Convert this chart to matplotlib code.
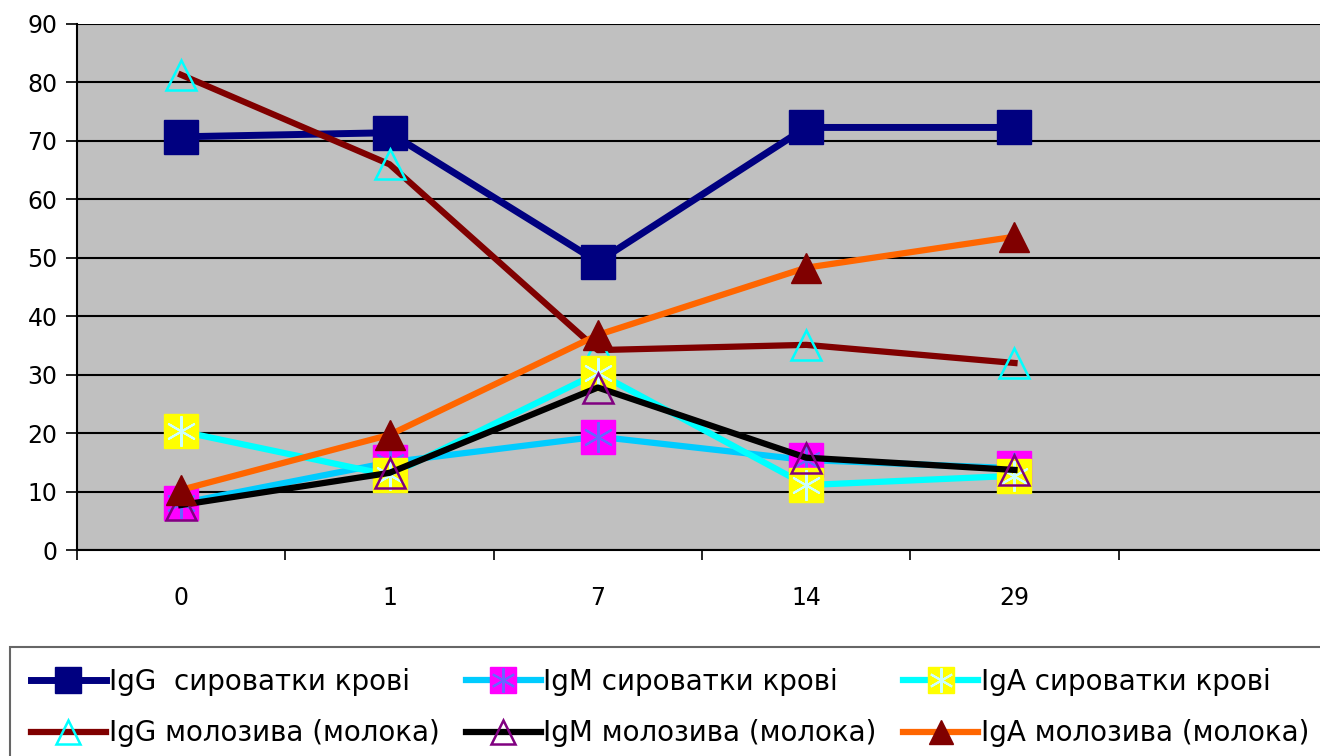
import matplotlib
matplotlib.use("Agg")
import matplotlib.pyplot as plt
from matplotlib.legend_handler import HandlerTuple

plt.rcParams['font.family'] = ['DejaVu Sans']

days = ['0', '1', '7', '14', '29']
igg_serum = [70.7, 71.4, 49.3, 72.3, 72.3]
igm_serum = [8.0, 15.0, 19.4, 15.4, 14.0]
iga_serum = [20.3, 12.8, 30.3, 11.1, 12.7]
igg_milk = [81.3, 66.0, 34.2, 35.1, 32.0]
igm_milk = [7.7, 13.2, 27.8, 15.8, 13.7]
iga_milk = [10.3, 19.7, 36.8, 48.3, 53.6]

labels = ['IgG  сироватки крові', 'IgM сироватки крові', 'IgA сироватки крові',
          'IgG молозива (молока)', 'IgM молозива (молока)', 'IgA молозива (молока)']

x = list(range(len(days)))

fig = plt.figure(figsize=(13.2, 7.56), dpi=100)
ax = fig.add_axes([77 / 1320, 206 / 756, 1250 / 1320, 526 / 756])
ax.set_facecolor('#C0C0C0')

l1, = ax.plot(x, igg_serum, color='#000080', lw=5, marker='s', ms=24,
              mfc='#000080', mec='#000080', zorder=3)
l2, = ax.plot(x, igm_serum, color='#00CCFF', lw=4.5, marker='s', ms=24,
              mfc='#FF00FF', mec='#FF00FF', zorder=3.1)
l2b, = ax.plot(x, igm_serum, ls='none', marker=(6, 2, 0), ms=22,
               mec='#6666FF', mew=1.5, zorder=3.15)
l4, = ax.plot(x, igg_milk, color='#800000', lw=4.5, marker='^', ms=22,
              mfc='none', mec='#00FFFF', mew=1.8, zorder=3.2)
l3, = ax.plot(x, iga_serum, color='#00FFFF', lw=4.5, marker='s', ms=24,
              mfc='#FFFF00', mec='#FFFF00', zorder=3.3)
l3b, = ax.plot(x, iga_serum, ls='none', marker=(6, 2, 0), ms=22,
               mec='#CCFFFF', mew=1.5, zorder=3.35)
l5, = ax.plot(x, igm_milk, color='black', lw=4.5, marker='^', ms=22,
              mfc='none', mec='#800080', mew=1.8, zorder=3.4)
l6, = ax.plot(x, iga_milk, color='#FF6600', lw=4.5, marker='^', ms=22,
              mfc='#800000', mec='#800000', zorder=3.5)

ax.set_xlim(-0.5, 5.5)
ax.set_ylim(0, 90)
ax.set_yticks(range(0, 91, 10))
ax.yaxis.grid(True, color='black', lw=1.5)
ax.set_axisbelow(True)
ax.set_xticks(x)
ax.set_xticklabels(days)
ax.set_xticks([i - 0.5 for i in range(7)], minor=True)
ax.tick_params(axis='x', which='major', length=0, pad=26, labelsize=17)
ax.tick_params(axis='x', which='minor', length=7, width=1.2)
ax.tick_params(axis='y', length=8, width=1.2, labelsize=17, pad=6)
for s in ['top', 'right']:
    ax.spines[s].set_visible(False)
ax.spines['left'].set_linewidth(1.5)
ax.spines['bottom'].set_linewidth(1.5)

# legend filled column by column, so reorder to get rows like the original
handles = [l1, (l2, l2b), (l3, l3b), l4, l5, l6]
order = [0, 3, 1, 4, 2, 5]
leg_top = 1 - 647 / 756
leg = fig.legend([handles[i] for i in order], [labels[i] for i in order],
                 ncol=3, loc='upper left', mode='expand',
                 bbox_to_anchor=(10 / 1320, leg_top - 0.2, 1320 / 1320, 0.2),
                 borderaxespad=0,
                 handler_map={tuple: HandlerTuple(ndivide=1)},
                 prop={'size': 20},
                 handlelength=2.7, handletextpad=0.1, columnspacing=0.45,
                 labelspacing=0.85, borderpad=0.75, fancybox=False,
                 edgecolor='#404040', markerscale=0.8)
leg.get_frame().set_linewidth(1.5)

fig.savefig('out.png', dpi=100)
